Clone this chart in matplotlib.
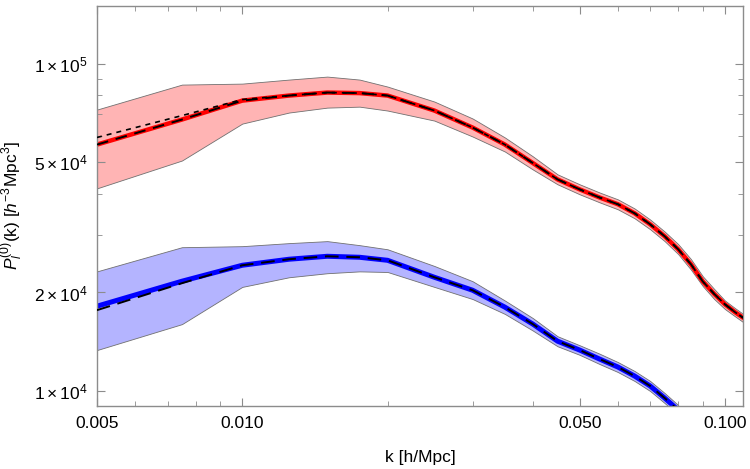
"""
Monopole power spectrum with error bands (red / blue tracers)
"""

import numpy as np
import matplotlib
matplotlib.use("Agg")
import matplotlib.pyplot as plt
from matplotlib.ticker import FixedLocator, LogLocator, NullFormatter

plt.rcParams['font.family'] = ['Liberation Sans', 'DejaVu Sans']
plt.rcParams['mathtext.fontset'] = 'custom'
plt.rcParams['mathtext.rm'] = 'Liberation Sans'
plt.rcParams['mathtext.it'] = 'Liberation Sans:italic'

# k grid [h/Mpc]
k = [0.005, 0.0075, 0.01, 0.0125, 0.015, 0.0175, 0.02, 0.025, 0.03, 0.035,
     0.04, 0.045, 0.05, 0.055, 0.06, 0.065, 0.07, 0.075, 0.08, 0.085,
     0.09, 0.095, 0.1, 0.105, 0.11]

# red tracer
red_mid = [56600, 67500, 77100, 79900, 81600, 81300, 79900, 71900, 63800, 56600,
           49700, 44300, 41300, 39000, 37200, 34900, 32300, 29700, 27100, 24400,
           21600, 19800, 18400, 17400, 16600]
red_hi = [72400, 86300, 86900, 89400, 91300, 89400, 85100, 76600, 68000, 59500,
          52100, 45900, 42800, 40400, 38500, 36100, 33400, 30700, 28100, 25300,
          22400, 20500, 18900, 17900, 17050]
red_lo = [41600, 50600, 65600, 70900, 73400, 73900, 71900, 67000, 59900, 53900,
          47500, 42800, 39900, 37700, 35900, 33700, 31200, 28700, 26200, 23500,
          20900, 19100, 17800, 16900, 16100]
red_alt = [59500, 69400, 77700, 79900, 81600, 81300, 79900, 71900, 63800, 56600,
           49700, 44300, 41300, 39000, 37200, 34900, 32300, 29700, 27100, 24400,
           21600, 19800, 18400, 17400, 16600]

# blue tracer (runs off the bottom near k~0.075)
kb = k[:19]
blue_mid = [18160, 21650, 24220, 25270, 25800, 25620, 25080, 22260, 20320, 18040,
            16010, 14200, 13340, 12520, 11840, 11110, 10360, 9520, 8750]
blue_hi = [23200, 27500, 27700, 28300, 28700, 27900, 27100, 24100, 21650, 18900,
           16700, 14700, 13800, 13000, 12260, 11510, 10730, 9860, 9060]
blue_lo = [13340, 16010, 20800, 22260, 22900, 23200, 23100, 20800, 19100, 17200,
           15300, 13700, 12900, 12090, 11430, 10730, 10000, 9190, 8450]
blue_alt = [17660, 21350, 24220, 25270, 25800, 25620, 25080, 22260, 20320, 18040,
            16010, 14200, 13340, 12520, 11840, 11110, 10360, 9520, 8750]

fig = plt.figure(figsize=(7.5, 4.69), dpi=100)
ax = fig.add_axes([0.1293, 0.1343, 0.8614, 0.8529])

edge = "#8c8c8c"
ax.fill_between(k, red_lo, red_hi, facecolor="#ffb4b4", edgecolor="#707070", linewidth=0.6, zorder=1)
ax.fill_between(kb, blue_lo, blue_hi, facecolor="#b4b4ff", edgecolor="#707070", linewidth=0.6, zorder=1)

ax.plot(k, red_mid, color="red", linewidth=3.2, solid_capstyle="butt", zorder=2)
ax.plot(kb, blue_mid, color="blue", linewidth=3.6, solid_capstyle="butt", zorder=2)

ax.plot(k, red_mid, color="black", linewidth=1.4, dashes=(6, 4), zorder=3)
ax.plot(k, red_alt, color="black", linewidth=1.2, dashes=(3, 3), zorder=3)
ax.plot(kb, blue_alt, color="black", linewidth=1.4, dashes=(7, 4), zorder=3)

ax.set_xscale("log")
ax.set_yscale("log")
ax.set_xlim(0.005, 0.109)
ax.set_ylim(9000, 150000)

ax.xaxis.set_major_locator(FixedLocator([0.005, 0.01, 0.05, 0.1]))
ax.set_xticklabels(["0.005", "0.010", "0.050", "0.100"])
ax.xaxis.set_minor_locator(LogLocator(base=10, subs=np.arange(2, 10)))
ax.xaxis.set_minor_formatter(NullFormatter())

ax.yaxis.set_major_locator(FixedLocator([1e4, 2e4, 5e4, 1e5]))
ax.set_yticklabels([r"$1\times10^{4}$", r"$2\times10^{4}$", r"$5\times10^{4}$", r"$1\times10^{5}$"])
ax.yaxis.set_minor_locator(LogLocator(base=10, subs=np.arange(2, 10)))
ax.yaxis.set_minor_formatter(NullFormatter())

for s in ax.spines.values():
    s.set_color(edge)
    s.set_linewidth(1.0)
ax.tick_params(which="both", direction="in", top=True, right=True, color=edge,
               labelsize=12.5, pad=7)
ax.tick_params(which="major", length=6, width=0.8)
ax.tick_params(which="minor", length=3.5, width=0.6)

ax.set_xlabel("k [h/Mpc]", fontsize=12.5, labelpad=14)
ax.set_ylabel(r"$P_l^{(0)}$(k) [$h^{-3}$Mpc$^3$]", fontsize=12.5, labelpad=6)

fig.savefig("out.png", dpi=100)
